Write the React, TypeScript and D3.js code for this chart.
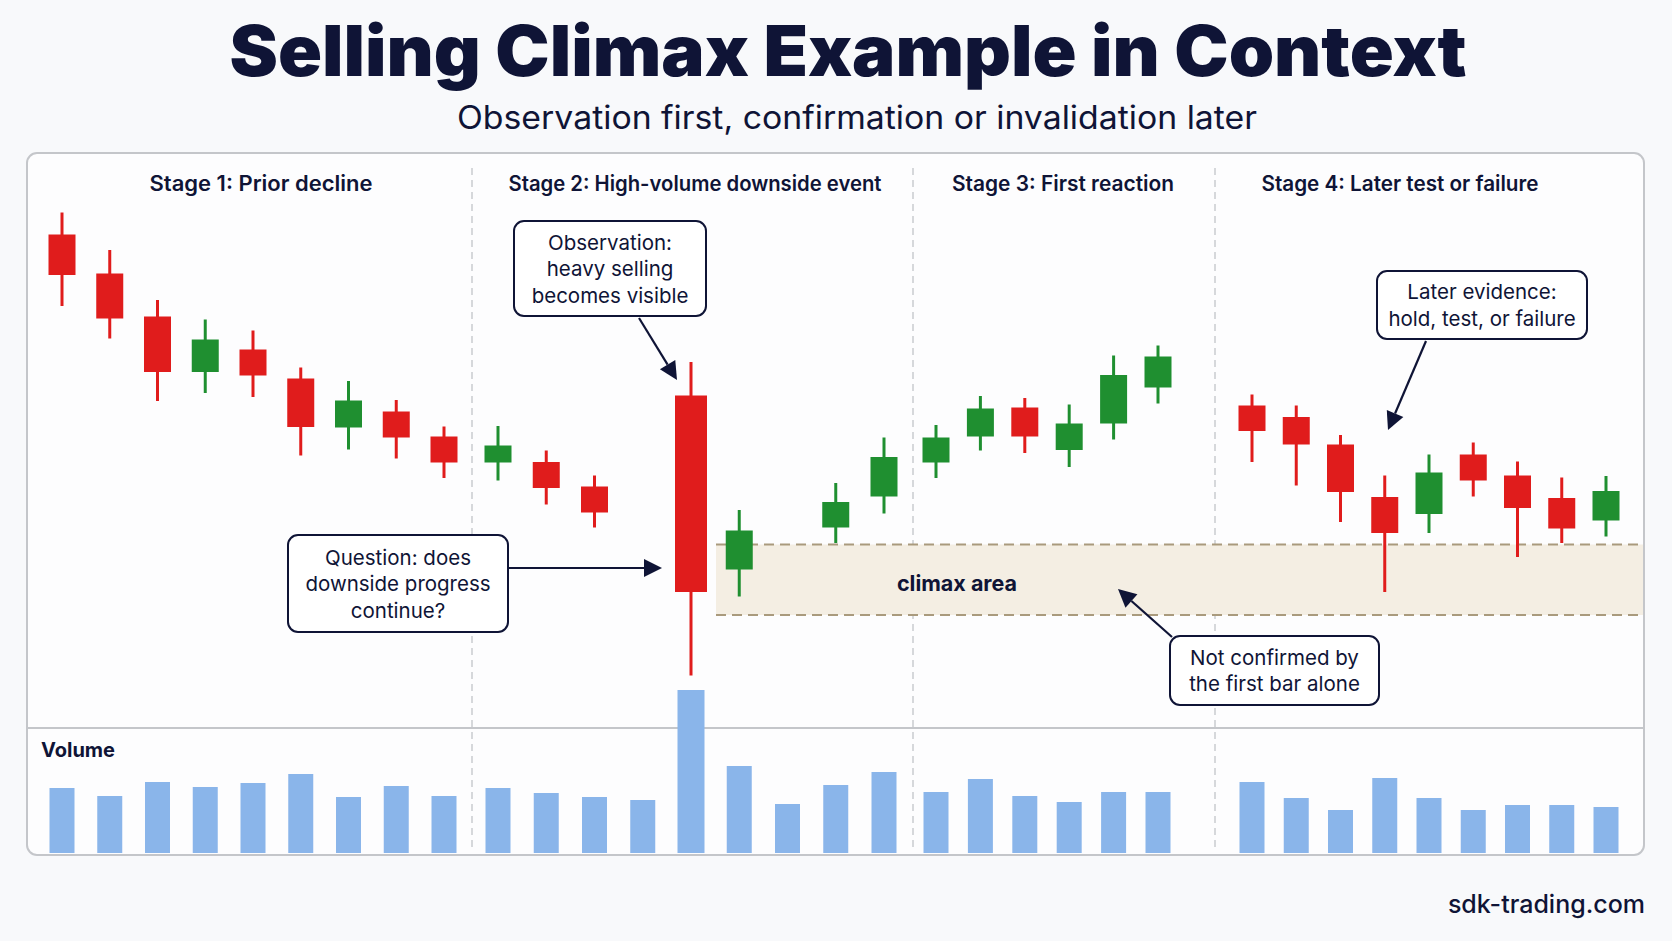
import React from "react";
import * as d3 from "d3";

// ---------- DATA ----------
const stageLabels = [
  "Stage 1: Prior decline",
  "Stage 2: High-volume downside event",
  "Stage 3: First reaction",
  "Stage 4: Later test or failure",
];
// number of bars in each stage
const stageCounts = [9, 9, 6, 9];

// OHLC per bar (null = no candle drawn)
const opens: (number | null)[] = [
  93.1, 85.3, 76.7, 65.6, 70.1, 64.3, 54.5, 57.7, 52.7,
  47.5, 47.6, 42.7, null, 60.9, 26.1, null, 34.5, 40.7,
  47.5, 52.7, 58.5, 50.0, 55.3, 62.5,
  58.9, 56.6, 51.1, 40.6, 37.2, 49.1, 44.9, 40.4, 35.9,
];
const highs: (number | null)[] = [
  97.5, 90.0, 80.0, 76.1, 73.9, 66.5, 63.8, 60.0, 54.7,
  54.8, 49.9, 44.9, null, 67.6, 38.0, null, 43.4, 52.5,
  55.0, 60.8, 60.4, 59.1, 68.9, 70.9,
  61.1, 58.9, 53.0, 44.9, 49.1, 51.5, 47.7, 44.5, 44.8,
];
const lows: (number | null)[] = [
  78.8, 72.3, 59.8, 61.4, 60.6, 48.9, 50.1, 48.3, 44.4,
  43.9, 39.1, 34.5, null, 4.9, 20.7, null, 31.4, 37.3,
  44.4, 49.9, 49.4, 46.6, 52.1, 59.3,
  47.6, 42.9, 35.6, 21.6, 33.4, 40.7, 28.6, 31.4, 32.7,
];
const closes: (number | null)[] = [
  85.0, 76.3, 65.6, 72.1, 64.9, 54.6, 59.9, 52.5, 47.5,
  50.9, 42.4, 37.5, null, 21.6, 33.9, null, 39.6, 48.6,
  52.5, 58.3, 52.7, 55.3, 65.0, 68.7,
  53.8, 51.1, 41.6, 33.4, 45.5, 43.9, 38.4, 34.3, 41.8,
];
const volumes = [
  65, 57, 71, 66, 70, 79, 56, 67, 57,
  65, 60, 56, 53, 163, 87, 49, 68, 81,
  61, 74, 57, 51, 61, 61,
  71, 55, 43, 75, 55, 43, 48, 48, 46,
];
const climaxIndex = 13;
const climaxZone = [17.0, 31.1]; // price range of the climax area

const annotations = [
  { lines: ["Observation:", "heavy selling", "becomes visible"], box: [514, 221, 706, 316], from: [639, 318], to: [677, 380] },
  { lines: ["Question: does", "downside progress", "continue?"], box: [288, 535, 508, 632], from: [508, 568], to: [662, 568] },
  { lines: ["Later evidence:", "hold, test, or failure"], box: [1377, 271, 1587, 339], from: [1426, 341], to: [1388, 430] },
  { lines: ["Not confirmed by", "the first bar alone"], box: [1170, 636, 1379, 705], from: [1172, 637], to: [1118, 589] },
];

// ---------- LAYOUT ----------
const W = 1672;
const H = 941;
const NAVY = "#0f1436";
const RED = "#e01c1c";
const GREEN = "#1f8f30";
const BLUE = "#8ab5ea";
const FONT = "Inter, 'Noto Sans', sans-serif";

const panel = { x: 27, y: 153, w: 1617, h: 702 };
const volTop = 728;
const stageRanges = [
  [62, 444],
  [498, 884],
  [936, 1158],
  [1252, 1606],
];
const dividers = [472, 913, 1215];
const stageLabelX = [261, 695, 1063, 1400];
const stageLabelW = [223, 373, 222, 277];

export default function App() {
  const y = d3.scaleLinear().domain([0, 100]).range([700, 200]);
  const yv = d3.scaleLinear().domain([0, 200]).range([853, 653]);

  // x positions via per-stage point scales
  const xs: number[] = [];
  let idx = 0;
  stageCounts.forEach((n, s) => {
    const sc = d3.scalePoint<number>().domain(d3.range(n)).range(stageRanges[s] as [number, number]);
    for (let i = 0; i < n; i++) xs[idx++] = sc(i) as number;
  });

  const bandLeft = xs[climaxIndex] + 25;
  const bandRight = panel.x + panel.w - 1;

  const arrowHead = (from: number[], to: number[]) => {
    const dx = to[0] - from[0];
    const dy = to[1] - from[1];
    const len = Math.hypot(dx, dy);
    const ux = dx / len, uy = dy / len;
    const L = 18, hw = 9;
    const bx = to[0] - ux * L, by = to[1] - uy * L;
    const pts = [
      [to[0], to[1]],
      [bx - uy * hw, by + ux * hw],
      [bx + uy * hw, by - ux * hw],
    ];
    return { pts: pts.map((p) => p.join(",")).join(" "), bx, by };
  };

  return (
    <svg
      width={W}
      height={H}
      viewBox={`0 0 ${W} ${H}`}
      style={{ position: "absolute", left: 0, top: 0, background: "#f8f9fb" }}
    >
      <rect x={0} y={0} width={W} height={H} fill="#f8f9fb" />
      {/* Titles */}
      <text x={848} y={76} textAnchor="middle" fontFamily={FONT} fontWeight={900} fontSize={70} fill={NAVY} textLength={1237} lengthAdjust="spacingAndGlyphs">
        Selling Climax Example in Context
      </text>
      <text x={857} y={129} textAnchor="middle" fontFamily={FONT} fontWeight={400} fontSize={32} fill={NAVY} textLength={800} lengthAdjust="spacingAndGlyphs">
        Observation first, confirmation or invalidation later
      </text>

      {/* Panel */}
      <rect x={panel.x} y={panel.y} width={panel.w} height={panel.h} rx={10} fill="#fdfdfe" stroke="#c4c6ca" strokeWidth={2} />
      <line x1={panel.x} x2={panel.x + panel.w} y1={volTop} y2={volTop} stroke="#c4c6ca" strokeWidth={2} />

      {/* Stage dividers */}
      {dividers.map((dx, i) => (
        <line key={i} x1={dx} x2={dx} y1={168} y2={852} stroke="#c9cbcf" strokeWidth={1.5} strokeDasharray="7 5" />
      ))}

      {/* Stage labels */}
      {stageLabels.map((t, i) => (
        <text key={i} x={stageLabelX[i]} y={191} textAnchor="middle" fontFamily={FONT} fontWeight={600} fontSize={21} fill={NAVY} textLength={stageLabelW[i]} lengthAdjust="spacingAndGlyphs">
          {t}
        </text>
      ))}

      {/* Climax area */}
      <rect x={bandLeft} y={y(climaxZone[1])} width={bandRight - bandLeft} height={y(climaxZone[0]) - y(climaxZone[1])} fill="#f4eee3" />
      {climaxZone.map((v, i) => (
        <line key={i} x1={bandLeft} x2={bandRight} y1={y(v)} y2={y(v)} stroke="#a99a7d" strokeWidth={2} strokeDasharray="10 6" />
      ))}
      <text x={957} y={591} textAnchor="middle" fontFamily={FONT} fontWeight={700} fontSize={21.5} fill={NAVY}>
        climax area
      </text>

      {/* Candles */}
      {xs.map((x, i) => {
        const o = opens[i], h = highs[i], l = lows[i], c = closes[i];
        if (o == null || h == null || l == null || c == null) return null;
        const col = c >= o ? GREEN : RED;
        const bw = i === climaxIndex ? 32 : 27;
        const top = y(Math.max(o, c));
        const bot = y(Math.min(o, c));
        return (
          <g key={i}>
            <line x1={x} x2={x} y1={y(h)} y2={y(l)} stroke={col} strokeWidth={3} />
            <rect x={x - bw / 2} y={top} width={bw} height={bot - top} fill={col} />
          </g>
        );
      })}

      {/* Volume */}
      <text x={41} y={757} fontFamily={FONT} fontWeight={700} fontSize={20} fill={NAVY}>
        Volume
      </text>
      {xs.map((x, i) => {
        const bw = i === climaxIndex ? 27 : 25;
        return <rect key={i} x={x - bw / 2} y={yv(volumes[i])} width={bw} height={yv(0) - yv(volumes[i])} fill={BLUE} />;
      })}

      {/* Annotations */}
      {annotations.map((a, i) => {
        const [x0, y0, x1, y1] = a.box;
        const cx = (x0 + x1) / 2;
        const n = a.lines.length;
        const lh = 26.5;
        const firstBase = (y0 + y1) / 2 - ((n - 1) * lh) / 2 + 7.5;
        const ah = arrowHead(a.from, a.to);
        return (
          <g key={i}>
            <line x1={a.from[0]} y1={a.from[1]} x2={ah.bx} y2={ah.by} stroke={NAVY} strokeWidth={2.2} />
            <polygon points={ah.pts} fill={NAVY} />
            <rect x={x0} y={y0} width={x1 - x0} height={y1 - y0} rx={10} fill="#ffffff" stroke={NAVY} strokeWidth={2} />
            {a.lines.map((t, j) => (
              <text key={j} x={cx} y={firstBase + j * lh} textAnchor="middle" fontFamily={FONT} fontWeight={400} fontSize={20.5} fill={NAVY}>
                {t}
              </text>
            ))}
          </g>
        );
      })}

      {/* Footer */}
      <text x={1645} y={913} textAnchor="end" fontFamily={FONT} fontWeight={500} fontSize={25} fill={NAVY}>
        sdk-trading.com
      </text>
    </svg>
  );
}
